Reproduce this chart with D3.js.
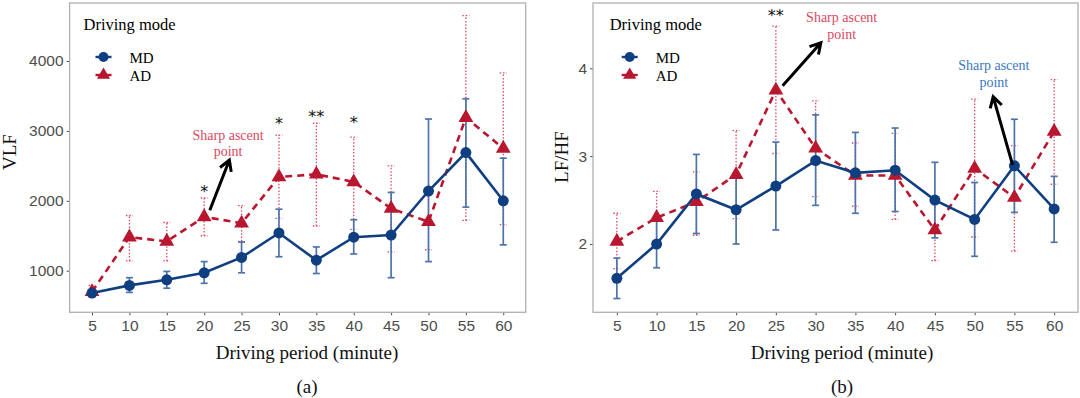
<!DOCTYPE html>
<html>
<head>
<meta charset="utf-8">
<script src="https://cdn.jsdelivr.net/npm/d3@7"></script>
<style>
  body { margin: 0; background: #fff; }
  .tick text { font-family: "Liberation Sans", Arial, sans-serif; font-size: 15.5px; fill: #4d4d4d; }
  .tick line { stroke: #4d4d4d; }
  .serif { font-family: "Liberation Serif", "Times New Roman", serif; }
</style>
</head>
<body>
<div class="chart"></div>
<script>
// categories
const minutes = ["5","10","15","20","25","30","35","40","45","50","55","60"];

// (a) VLF
const vlfMD     = [680, 790, 870, 970, 1190, 1540, 1150, 1480, 1510, 2140, 2690, 2000];
const vlfMDLow  = [630, 690, 750, 820, 970, 1200, 960, 1240, 900, 1130, 1910, 1370];
const vlfMDHigh = [730, 900, 990, 1130, 1410, 1880, 1340, 1730, 2120, 3170, 3460, 2610];
const vlfAD     = [700, 1480, 1420, 1770, 1680, 2340, 2380, 2270, 1890, 1700, 3190, 2750];
const vlfADLow  = [640, 1140, 1140, 1500, 1420, 1750, 1640, 1590, 1270, 1300, 1720, 1660];
const vlfADHigh = [790, 1790, 1690, 2040, 1930, 2940, 3110, 2910, 2500, 2100, 4650, 3830];
const vlfTicks = [1000, 2000, 3000, 4000];

// (b) LF/HF
const lfhfMD     = [1.61, 2.00, 2.57, 2.39, 2.66, 2.95, 2.81, 2.84, 2.50, 2.28, 2.89, 2.40];
const lfhfMDLow  = [1.38, 1.73, 2.12, 2.00, 2.16, 2.44, 2.35, 2.37, 2.07, 1.86, 2.36, 2.02];
const lfhfMDHigh = [1.84, 2.28, 3.02, 2.78, 3.16, 3.47, 3.27, 3.32, 2.93, 2.70, 3.42, 2.77];
const lfhfAD     = [2.03, 2.30, 2.48, 2.79, 3.75, 3.09, 2.78, 2.78, 2.16, 2.86, 2.53, 3.28];
const lfhfADLow  = [1.72, 2.00, 2.10, 2.29, 3.03, 2.54, 2.43, 2.28, 1.81, 2.08, 1.92, 2.68];
const lfhfADHigh = [2.35, 2.60, 2.82, 3.29, 4.48, 3.63, 3.15, 3.26, 2.52, 3.65, 3.12, 3.87];
const lfhfTicks = [2, 3, 4];

// significance marks (minute, value)
const vlfStars  = [{m: 20, v: 2183, t: "*"}, {m: 30, v: 3156, t: "*"}, {m: 35, v: 3252, t: "**"}, {m: 40, v: 3170, t: "*"}];
const lfhfStars = [{m: 25, v: 4.64, t: "**"}];

const blue = "#0f3f80", blueBar = "#4d74aa";
const red = "#b8172f", redBar = "#dc4a66";

const svg = d3.select('.chart').append('svg')
	.attr('width', 1080)
	.attr('height', 398);

function panel(cfg) {
	const g = svg.append('g');

	const x = d3.scalePoint().domain(minutes).range([cfg.x0, cfg.x1]).padding(0.6);
	const y = d3.scaleLinear().domain(cfg.yDomain).range([cfg.y1, cfg.y0]);
	// continuous minute position for notes
	const xm = m => x("5") + (m - 5) / 5 * x.step();

	g.append('g')
		.attr('transform', `translate(0, ${cfg.y1})`)
		.call(d3.axisBottom(x).tickSize(3).tickPadding(4.5))
		.call(a => a.select('.domain').remove());

	g.append('g')
		.attr('transform', `translate(${cfg.x0}, 0)`)
		.call(d3.axisLeft(y).tickValues(cfg.ticks).tickSize(3).tickPadding(3).tickFormat(d3.format('d')))
		.call(a => a.select('.domain').remove());

	g.append('rect')
		.attr('x', cfg.x0).attr('y', cfg.y0)
		.attr('width', cfg.x1 - cfg.x0).attr('height', cfg.y1 - cfg.y0)
		.attr('fill', 'none').attr('stroke', '#b0b0b0').attr('stroke-width', 1.3);

	const series = [
		{mean: cfg.ad, lo: cfg.adLo, hi: cfg.adHi, col: red, bar: redBar, dash: '7,5', barDash: '1.5,1.8', tri: true},
		{mean: cfg.md, lo: cfg.mdLo, hi: cfg.mdHi, col: blue, bar: blueBar, dash: null, barDash: null, tri: false}
	];

	// error bars
	series.forEach(s => {
		const rows = minutes.map((m, i) => ({m, lo: s.lo[i], hi: s.hi[i]}));
		const eb = g.append('g')
			.attr('stroke', s.bar)
			.attr('stroke-width', s.tri ? 1.3 : 1.7)
			.attr('stroke-dasharray', s.barDash);
		eb.selectAll('.v').data(rows).enter().append('line')
			.attr('x1', d => x(d.m)).attr('x2', d => x(d.m))
			.attr('y1', d => y(d.lo)).attr('y2', d => y(d.hi));
		['lo', 'hi'].forEach(k => {
			eb.selectAll('.c' + k).data(rows).enter().append('line')
				.attr('stroke-dasharray', null)
				.attr('x1', d => x(d.m) - 3.5).attr('x2', d => x(d.m) + 3.5)
				.attr('y1', d => y(d[k])).attr('y2', d => y(d[k]));
		});
	});

	// lines
	series.forEach(s => {
		const line = d3.line().x((d, i) => x(minutes[i])).y(d => y(d));
		g.append('path')
			.datum(s.mean)
			.attr('d', line)
			.attr('fill', 'none')
			.attr('stroke', s.col)
			.attr('stroke-width', 2.6)
			.attr('stroke-dasharray', s.dash);
	});

	// points
	series.forEach(s => {
		if (s.tri) {
			g.selectAll('.tri').data(s.mean).enter().append('path')
				.attr('d', d3.symbol(d3.symbolTriangle).size(95))
				.attr('transform', (d, i) => `translate(${x(minutes[i])}, ${y(d)})`)
				.attr('fill', s.col);
		} else {
			g.selectAll('.dot').data(s.mean).enter().append('circle')
				.attr('cx', (d, i) => x(minutes[i]))
				.attr('cy', d => y(d))
				.attr('r', 5.5)
				.attr('fill', s.col);
		}
	});

	// stars
	g.selectAll('.star').data(cfg.stars).enter().append('text')
		.attr('x', d => xm(d.m))
		.attr('y', d => y(d.v) + 9)
		.attr('text-anchor', 'middle')
		.attr('font-family', 'DejaVu Sans, sans-serif')
		.attr('font-size', '16px')
		.attr('fill', '#111')
		.text(d => d.t);

	// notes with arrows
	cfg.notes.forEach(n => {
		const t = g.append('text')
			.attr('class', 'serif')
			.attr('text-anchor', 'middle')
			.attr('font-size', '14px')
			.attr('fill', n.col);
		n.lines.forEach((s, i) => {
			t.append('tspan').attr('x', xm(n.m)).attr('y', y(n.v[i]) + 4.5).text(s);
		});
		const ax0 = xm(n.from[0]), ay0 = y(n.from[1]);
		const ax1 = xm(n.to[0]), ay1 = y(n.to[1]);
		const ang = Math.atan2(ay1 - ay0, ax1 - ax0);
		const hl = 12, spread = Math.PI / 6;
		g.append('path')
			.attr('d', `M${ax0},${ay0}L${ax1},${ay1}` +
				`M${ax1 - hl * Math.cos(ang - spread)},${ay1 - hl * Math.sin(ang - spread)}L${ax1},${ay1}` +
				`L${ax1 - hl * Math.cos(ang + spread)},${ay1 - hl * Math.sin(ang + spread)}`)
			.attr('fill', 'none')
			.attr('stroke', '#000')
			.attr('stroke-width', 3)
			.attr('stroke-linejoin', 'miter');
	});

	// legend
	const lg = g.append('g').attr('class', 'serif');
	lg.append('text').attr('x', cfg.legX).attr('y', 30).attr('font-size', '16.5px').text('Driving mode');
	[{k: 'MD', c: blue, yy: 57, tri: false}, {k: 'AD', c: red, yy: 75, tri: true}].forEach(e => {
		const mx = cfg.legX + 20;
		lg.append('line').attr('x1', mx - 8).attr('x2', mx + 8).attr('y1', e.yy).attr('y2', e.yy)
			.attr('stroke', e.c).attr('stroke-width', 2.4);
		if (e.tri) {
			lg.append('path').attr('d', d3.symbol(d3.symbolTriangle).size(75))
				.attr('transform', `translate(${mx}, ${e.yy})`).attr('fill', e.c);
		} else {
			lg.append('circle').attr('cx', mx).attr('cy', e.yy).attr('r', 5).attr('fill', e.c);
		}
		lg.append('text').attr('x', cfg.legX + 46).attr('y', e.yy + 5.5).attr('font-size', '15px').text(e.k);
	});

	// axis titles and panel label
	const cx = cfg.titleX;
	g.append('text').attr('class', 'serif').attr('x', cx).attr('y', 359)
		.attr('text-anchor', 'middle').attr('font-size', '19px').attr('fill', '#111')
		.text('Driving period (minute)');
	g.append('text').attr('class', 'serif').attr('x', cx).attr('y', 393)
		.attr('text-anchor', 'middle').attr('font-size', '19px').attr('fill', '#111')
		.text(cfg.label);
	g.append('text').attr('class', 'serif')
		.attr('transform', `translate(${cfg.yTitleX}, ${cfg.yTitleY}) rotate(-90)`)
		.attr('text-anchor', 'middle').attr('font-size', '19px').attr('fill', '#111')
		.text(cfg.yTitle);
}

panel({
	x0: 69.6, x1: 525.7, y0: 3, y1: 312.3,
	yDomain: [405, 4830], ticks: vlfTicks,
	md: vlfMD, mdLo: vlfMDLow, mdHi: vlfMDHigh,
	ad: vlfAD, adLo: vlfADLow, adHi: vlfADHigh,
	stars: vlfStars,
	notes: [
		{lines: ['Sharp ascent', 'point'], m: 23.2, v: [2941, 2712], col: '#d8485f',
		 from: [20.75, 1866], to: [23.37, 2584]}
	],
	legX: 83.5, titleX: 307, label: '(a)',
	yTitle: 'VLF', yTitleX: 16, yTitleY: 152
});

panel({
	x0: 593, x1: 1078, y0: 3, y1: 312.3,
	yDomain: [1.223, 4.743], ticks: lfhfTicks,
	md: lfhfMD, mdLo: lfhfMDLow, mdHi: lfhfMDHigh,
	ad: lfhfAD, adLo: lfhfADLow, adHi: lfhfADHigh,
	stars: lfhfStars,
	notes: [
		{lines: ['Sharp ascent', 'point'], m: 33.28, v: [4.573, 4.380], col: '#d8485f',
		 from: [25.85, 3.80], to: [30.66, 4.29]},
		{lines: ['Sharp ascent', 'point'], m: 52.42, v: [4.027, 3.833], col: '#3b78be',
		 from: [54.77, 2.90], to: [52.33, 3.677]}
	],
	legX: 609.7, titleX: 842, label: '(b)',
	yTitle: 'LF/HF', yTitleX: 568, yTitleY: 157
});
</script>
</body>
</html>
